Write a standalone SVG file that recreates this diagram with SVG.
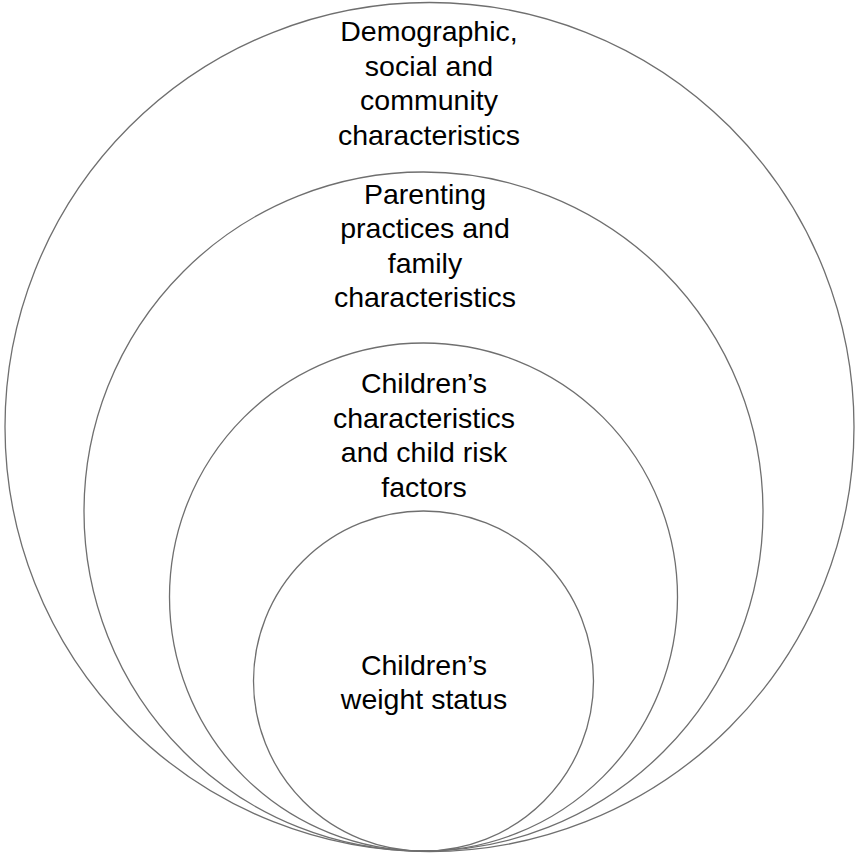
<svg xmlns="http://www.w3.org/2000/svg" width="858" height="853" viewBox="0 0 858 853">
<style>
.ring{fill:none;stroke:#6f6f6f;stroke-width:1.3}
.t{font-family:"Liberation Sans",Arial,sans-serif;font-size:28.5px;fill:#000;text-anchor:middle}
</style>
<rect width="858" height="853" fill="#fff"/>
<g id="outer">
<circle class="ring" cx="429.5" cy="427" r="424.5"/>
<text class="t" x="429" y="41">Demographic,</text>
<text class="t" x="429" y="76">social and</text>
<text class="t" x="429" y="110">community</text>
<text class="t" x="429" y="145">characteristics</text>
</g>
<g id="family">
<circle class="ring" cx="423.5" cy="511.5" r="339.5"/>
<text class="t" x="425" y="203.5">Parenting</text>
<text class="t" x="425" y="238">practices and</text>
<text class="t" x="425" y="272.5">family</text>
<text class="t" x="425" y="307">characteristics</text>
</g>
<g id="child">
<circle class="ring" cx="423.5" cy="597" r="254"/>
<text class="t" x="424" y="393">Children’s</text>
<text class="t" x="424" y="427.5">characteristics</text>
<text class="t" x="424" y="462">and child risk</text>
<text class="t" x="424" y="496.5">factors</text>
</g>
<g id="weight">
<circle class="ring" cx="423.5" cy="681" r="170"/>
<text class="t" x="424" y="675">Children’s</text>
<text class="t" x="424" y="709">weight status</text>
</g>
<g id="connectors"/>
</svg>
